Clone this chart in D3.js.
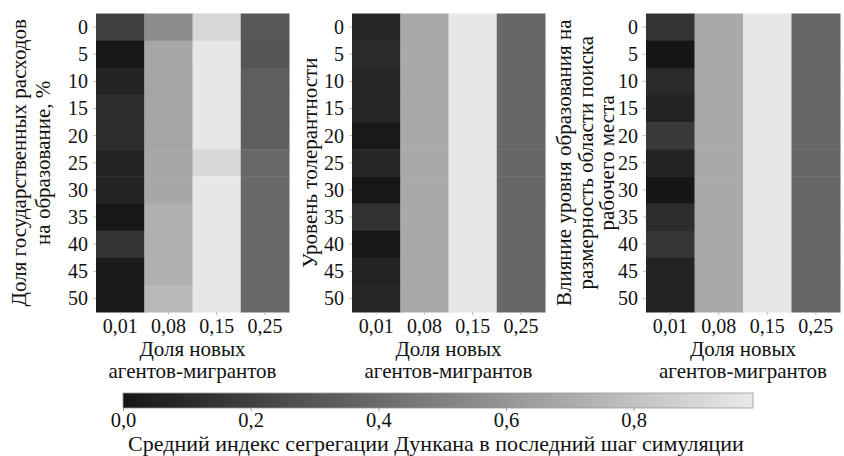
<!DOCTYPE html>
<html><head><meta charset="utf-8">
<script src="https://cdn.jsdelivr.net/npm/d3@7/dist/d3.min.js"></script>
</head>
<body style="margin:0;background:#fff">
<svg id="chart" width="844" height="456" style="display:block"></svg>
<script>
// ---- data ----
const rowLabels = ["0","5","10","15","20","25","30","35","40","45","50"];
const colLabels = ["0,01","0,08","0,15","0,25"];
// each row: values for columns 0,01 / 0,08 / 0,15 / 0,25
const panel1Values = [
  [0.20,0.56,0.91,0.31],
  [0.01,0.68,0.98,0.30],
  [0.07,0.67,0.98,0.34],
  [0.11,0.67,0.98,0.34],
  [0.11,0.67,0.98,0.34],
  [0.07,0.68,0.91,0.39],
  [0.07,0.68,0.98,0.39],
  [0.01,0.72,0.98,0.39],
  [0.15,0.72,0.98,0.39],
  [0.03,0.72,0.98,0.39],
  [0.03,0.76,0.98,0.39]
];
const panel2Values = [
  [0.08,0.69,0.98,0.38],
  [0.10,0.69,0.98,0.38],
  [0.08,0.69,0.98,0.38],
  [0.08,0.69,0.98,0.38],
  [0.02,0.69,0.98,0.38],
  [0.08,0.69,0.98,0.38],
  [0.01,0.69,0.98,0.38],
  [0.13,0.69,0.98,0.38],
  [0.01,0.69,0.98,0.38],
  [0.065,0.69,0.98,0.38],
  [0.08,0.69,0.98,0.38]
];
const panel3Values = [
  [0.145,0.69,0.98,0.38],
  [0.005,0.69,0.98,0.38],
  [0.10,0.69,0.98,0.38],
  [0.065,0.69,0.98,0.38],
  [0.17,0.69,0.98,0.38],
  [0.065,0.69,0.98,0.38],
  [0.005,0.69,0.98,0.38],
  [0.11,0.69,0.98,0.38],
  [0.155,0.69,0.98,0.38],
  [0.065,0.69,0.98,0.38],
  [0.065,0.69,0.98,0.38]
];
const panelYTitles = [
  ["Доля государственных расходов","на образование, %"],
  ["Уровень толерантности"],
  ["Влияние уровня образования на","размерность области поиска","рабочего места"]
];
const xTitleLines = ["Доля новых","агентов-мигрантов"];
const colorbarTicks = [0,0.2,0.4,0.6,0.8];
const colorbarMax = 0.987;
const colorbarTitle = "Средний индекс сегрегации Дункана в последний шаг симуляции";

// ---- drawing ----
const FONT = "'Liberation Serif', 'Times New Roman', serif";
const svg = d3.select("#chart");
const color = d3.scaleLinear().domain([0,colorbarMax]).range(["#151515","#e9e9e9"]);
const fmt = v => d3.format(".1f")(v).replace(".", ",");

const panels = [
  {values: panel1Values, x0: 96, x1: 289, titleX: [18,42]},
  {values: panel2Values, x0: 352, x1: 545, titleX: [309]},
  {values: panel3Values, x0: 646, x1: 840, titleX: [563,585,606]}
];
const plotTop = 13.5, plotBottom = 312;
const tickFs = 20, titleFs = 21;

function styleText(sel, size) {
  return sel.attr("font-family", FONT).attr("font-size", size).attr("fill", "#111")
    .style("font-family", FONT, "important").style("font-size", size + "px", "important");
}

panels.forEach((p, i) => {
  const g = svg.append("g");
  const x = d3.scaleBand().domain(colLabels).range([p.x0, p.x1]);
  const y = d3.scaleBand().domain(rowLabels).range([plotTop, plotBottom]);
  const cells = [];
  p.values.forEach((row, ri) => row.forEach((v, ci) => cells.push({r: rowLabels[ri], c: colLabels[ci], v})));
  g.selectAll("rect.cell").data(cells).join("rect")
    .attr("x", d => x(d.c)).attr("y", d => y(d.r))
    .attr("width", x.bandwidth() + 0.5).attr("height", y.bandwidth() + 0.5)
    .attr("fill", d => color(d.v));

  const xAxis = g.append("g").attr("transform", `translate(0,${plotBottom})`)
    .call(d3.axisBottom(x).tickSize(3).tickPadding(4));
  const yAxis = g.append("g").attr("transform", `translate(${p.x0},0)`)
    .call(d3.axisLeft(y).tickSize(3).tickPadding(5));
  [xAxis, yAxis].forEach(a => {
    a.attr("font-family", FONT).attr("font-size", null);
    a.select(".domain").remove();
    a.selectAll(".tick line").attr("stroke", "#bbb");
    styleText(a.selectAll(".tick text"), tickFs);
  });
  xAxis.selectAll(".tick text").attr("dy", "0.71em");
  yAxis.selectAll(".tick text").attr("dy", "0.35em");

  const cx = (p.x0 + p.x1) / 2;
  xTitleLines.forEach((t, k) => {
    styleText(g.append("text"), titleFs).attr("x", cx).attr("y", 356 + k * 22)
      .attr("text-anchor", "middle").text(t);
  });
  const midY = (plotTop + plotBottom) / 2;
  panelYTitles[i].forEach((t, k) => {
    styleText(g.append("text"), titleFs).attr("transform", `translate(${p.titleX[k] + 7.5},${midY}) rotate(-90)`)
      .attr("text-anchor", "middle").text(t);
  });
});

// colorbar
const cbX0 = 123, cbY = 393, cbH = 15;
const cbScale = d3.scaleLinear().domain([0, colorbarMax]).range([cbX0, 753]);
const defs = svg.append("defs");
const grad = defs.append("linearGradient").attr("id", "cbgrad");
d3.range(0, 1.0001, 0.1).forEach(t => {
  grad.append("stop").attr("offset", (t * 100) + "%").attr("stop-color", color(t * colorbarMax));
});
svg.append("rect").attr("x", cbX0).attr("y", cbY)
  .attr("width", cbScale(colorbarMax) - cbX0).attr("height", cbH)
  .attr("fill", "url(#cbgrad)").attr("stroke", "#999").attr("stroke-width", 0.8);
const cbAxis = svg.append("g").attr("transform", `translate(0,${cbY + cbH})`)
  .call(d3.axisBottom(cbScale).tickValues(colorbarTicks).tickFormat(fmt).tickSize(3).tickPadding(1));
cbAxis.attr("font-family", FONT).attr("font-size", null);
cbAxis.select(".domain").remove();
cbAxis.selectAll(".tick line").attr("stroke", "#999");
styleText(cbAxis.selectAll(".tick text"), 20.5).attr("dy", "0.71em");
styleText(svg.append("text"), 22).attr("x", 436).attr("y", 450.5)
  .attr("text-anchor", "middle").text(colorbarTitle);
</script>
</body></html>
